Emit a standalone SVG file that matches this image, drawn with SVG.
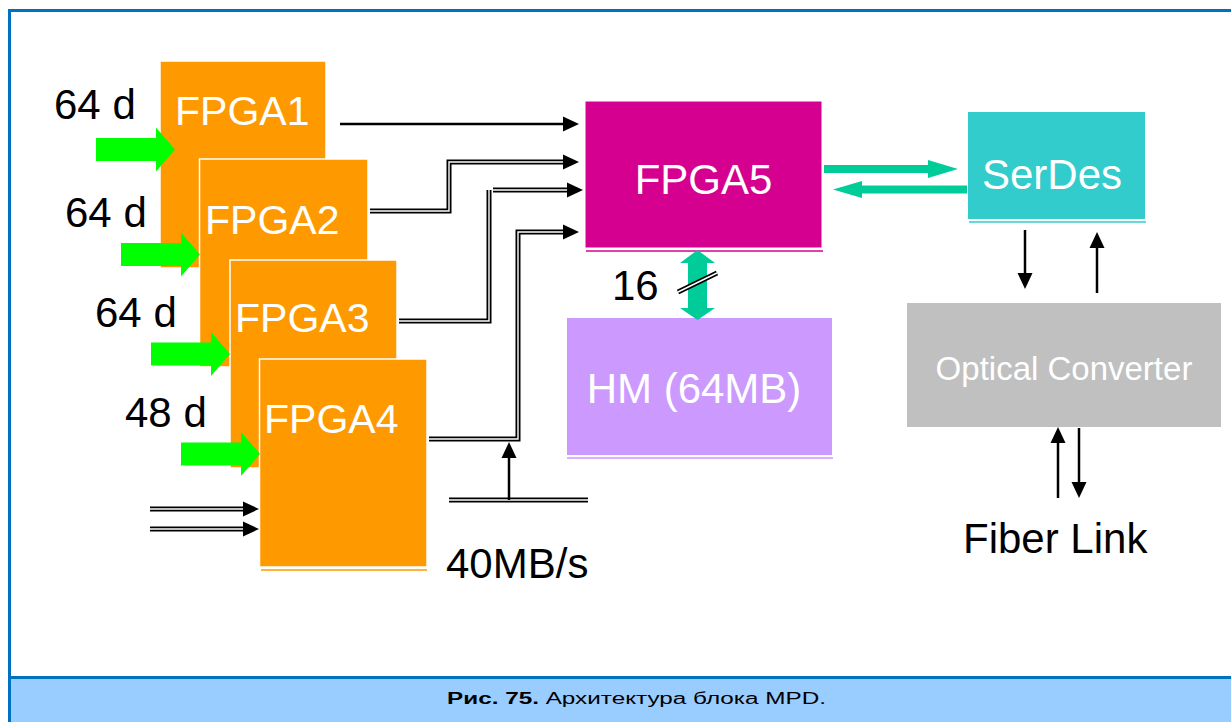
<svg xmlns="http://www.w3.org/2000/svg" width="1231" height="722" viewBox="0 0 1231 722">
<style>
.lbl{font-family:"Liberation Sans",Arial,sans-serif;font-size:42px;fill:#000}
.wl{font-family:"Liberation Sans",Arial,sans-serif;font-size:41px;fill:#fff}
.fpga{fill:#FF9900;stroke:#fff;stroke-width:1.5}
.blk{fill:none;stroke:#000;stroke-width:2.5}
.dbl{fill:none;stroke:#000;stroke-width:5}
.dblw{fill:none;stroke:#fff;stroke-width:1.4}
.green{fill:#00FF00}
.teal{fill:#00CC99}
.cap{font-family:"Liberation Sans",Arial,sans-serif;font-size:16px;fill:#000}
</style>
<defs>
<marker id="ah" markerUnits="userSpaceOnUse" markerWidth="17" markerHeight="16" refX="0" refY="7.5" orient="auto" overflow="visible">
<path d="M0,0 L16,7.5 L0,15 Z" fill="#000"/>
</marker>
<path id="garrow" d="M0,-11.5 H60 V-22 L79,0 L60,22 V11.5 H0 Z"/>
</defs>
<rect x="0" y="0" width="1231" height="722" fill="#fff"/>
<!-- frame -->
<rect x="10" y="678" width="1221" height="44" fill="#99CCFF"/>
<rect x="8" y="9" width="1223" height="3" fill="#0070C0"/>
<rect x="8" y="9" width="3" height="713" fill="#0070C0"/>
<rect x="8" y="676" width="1223" height="3" fill="#0070C0"/>

<g id="fpga1">
<rect class="fpga" x="160" y="61" width="166" height="207"/>
<text class="wl" x="175" y="125">FPGA1</text>
</g>
<g id="fpga2">
<rect class="fpga" x="199.5" y="159" width="168.5" height="208"/>
<text class="wl" x="205" y="234">FPGA2</text>
</g>
<g id="fpga3">
<rect class="fpga" x="230" y="260" width="167" height="208"/>
<text class="wl" x="235" y="332">FPGA3</text>
</g>
<g id="fpga4">
<rect class="fpga" x="259.5" y="359" width="167.5" height="208"/>
<line x1="261" y1="570" x2="427" y2="570" stroke="#FF9900" stroke-width="1.5"/>
<text class="wl" x="264" y="433">FPGA4</text>
</g>
<g id="fpga5">
<rect x="585" y="101" width="237" height="147" fill="#D5008F" stroke="#fff" stroke-width="1"/>
<line x1="586" y1="251" x2="823" y2="251" stroke="#D5008F" stroke-width="1.5"/>
<text class="lbl" x="703.5" y="194" text-anchor="middle" style="fill:#fff">FPGA5</text>
</g>
<g id="hm">
<rect x="567" y="318" width="265" height="137" fill="#CC99FF"/>
<line x1="567" y1="458" x2="833" y2="458" stroke="#CC99FF" stroke-width="1.5"/>
<text class="lbl" x="694" y="403" text-anchor="middle" style="fill:#fff">HM (64MB)</text>
</g>
<g id="serdes">
<rect x="968" y="112" width="177" height="107" fill="#33CCCC"/>
<line x1="969" y1="222" x2="1146" y2="222" stroke="#33CCCC" stroke-width="1.5"/>
<text class="lbl" x="982" y="189" style="fill:#fff">SerDes</text>
</g>
<g id="optical">
<rect x="907" y="303" width="314" height="124" fill="#C0C0C0"/>
<text x="1064" y="380" text-anchor="middle" font-family="'Liberation Sans',Arial,sans-serif" font-size="33" fill="#fff">Optical Converter</text>
</g>

<g id="labels">
<text class="lbl" x="54" y="119">64 d</text>
<text class="lbl" x="65" y="227">64 d</text>
<text class="lbl" x="95" y="327">64 d</text>
<text class="lbl" x="125" y="427">48 d</text>
<text class="lbl" x="612" y="300">16</text>
<text class="lbl" x="446" y="578">40MB/s</text>
<text class="lbl" x="963" y="553">Fiber Link</text>
</g>

<g id="connectors">
<use href="#garrow" class="green" x="96" y="149.5"/>
<use href="#garrow" class="green" x="121" y="254.5"/>
<use href="#garrow" class="green" x="151" y="354"/>
<use href="#garrow" class="green" x="181" y="454"/>
<path class="dbl" d="M150,509 H243" marker-end="url(#ah)"/>
<path class="dblw" d="M150,509 H243"/>
<path class="dbl" d="M150,529 H243" marker-end="url(#ah)"/>
<path class="dblw" d="M150,529 H243"/>
<path class="blk" d="M340,124 H563" marker-end="url(#ah)"/>
<path class="dbl" d="M370,211 H449 V162 H563" marker-end="url(#ah)"/>
<path class="dblw" d="M370,211 H449 V162 H563"/>
<path class="dbl" d="M399,321 H489 V190"/>
<path class="dblw" d="M399,321 H489 V190"/>
<path class="dbl" d="M493,190 H567" marker-end="url(#ah)"/>
<path class="dblw" d="M493,190 H567"/>
<path class="dbl" d="M429,439 H518 V232 H563" marker-end="url(#ah)"/>
<path class="dblw" d="M429,439 H518 V232 H563"/>
<path class="dbl" d="M449,500 H588"/>
<path class="dblw" d="M449,500 H588"/>
<path class="blk" d="M509,500 V458" marker-end="url(#ah)"/>
<path class="teal" d="M824,165 H928 V160 L958,169 L928,178 V173 H824 Z"/>
<path class="teal" d="M967,185.5 H862 V181 L833,189.5 L862,198 V193.5 H967 Z"/>
<path class="teal" d="M697.5,250 L715,263 H707 V308 H715 L697.5,320 L680,308 H688 V263 H680 Z"/>
<path class="dbl" d="M678,292 L717,273"/>
<path class="dblw" d="M678,292 L717,273"/>
<path class="blk" d="M1025,230 V273" marker-end="url(#ah)"/>
<path class="blk" d="M1097,293 V248" marker-end="url(#ah)"/>
<path class="blk" d="M1058,498 V443" marker-end="url(#ah)"/>
<path class="blk" d="M1079,428 V482" marker-end="url(#ah)"/>
</g>

<text class="cap" x="447" y="704" textLength="379" lengthAdjust="spacingAndGlyphs"><tspan font-weight="bold">Рис. 75.</tspan> Архитектура блока MPD.</text>
</svg>
